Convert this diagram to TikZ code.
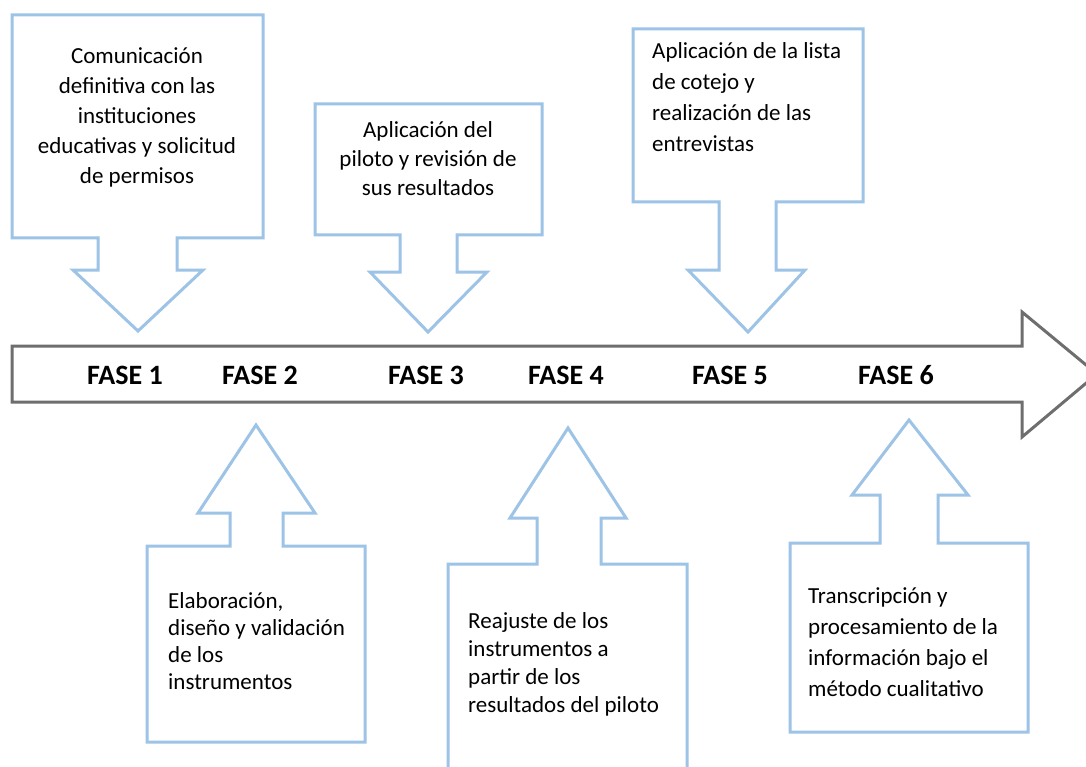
\documentclass[tikz,border=0pt]{standalone}
\usepackage{fontspec}
\setmainfont{Carlito}
\usetikzlibrary{positioning}
\definecolor{calloutblue}{RGB}{157,195,230}
\definecolor{timegray}{RGB}{110,110,110}
\tikzset{
    callout/.style={draw=calloutblue, line width=3pt, line join=miter, fill=white},
    timeline/.style={draw=timegray, line width=3pt, line join=miter, fill=white},
    fase/.style={font=\bfseries\fontsize{28}{28}\selectfont, inner sep=0pt, anchor=base},
    txtc/.style={align=center, inner sep=0pt, anchor=base},
    txtl/.style={align=left, inner sep=0pt, anchor=base west},
}

\begin{document}
\begin{tikzpicture}[x=1pt, y=-1pt]
    \useasboundingbox (0,0) rectangle (1086,767);

    % timeline
    \draw[timeline] (12,346) -- (1022,346) -- (1022,312) -- (1097,374)
        -- (1022,437) -- (1022,402) -- (12,402) -- cycle;

    \node[fase] (f1) at (125,384) {FASE 1};
    \node[fase] (f2) at (260,384) {FASE 2};
    \node[fase] (f3) at (426,384) {FASE 3};
    \node[fase] (f4) at (566,384) {FASE 4};
    \node[fase] (f5) at (730,384) {FASE 5};
    \node[fase] (f6) at (896,384) {FASE 6};

    % callouts above (text anchored at the baseline of its last line)
    \draw[callout] (12,15) -- (263,15) -- (263,238) -- (177,238) -- (177,270) -- (203,270)
        -- (138,331) -- (73,270) -- (98,270) -- (98,238) -- (12,238) -- cycle;
    \node[txtc, font=\fontsize{23}{30}\selectfont] (t1) at (137,184)
        {Comunicación\\definitiva con las\\instituciones\\educativas y solicitud\\de permisos};

    \draw[callout] (315,104) -- (542,104) -- (542,235) -- (457,235) -- (457,272) -- (487,272)
        -- (428,332) -- (370,272) -- (400,272) -- (400,235) -- (315,235) -- cycle;
    \node[txtc, font=\fontsize{23}{29}\selectfont] (t3) at (428,196)
        {Aplicación del\\piloto y revisión de\\sus resultados};

    \draw[callout] (633,29) -- (863,29) -- (863,202) -- (776,202) -- (776,270) -- (805,270)
        -- (748,332) -- (688,270) -- (719,270) -- (719,202) -- (633,202) -- cycle;
    \node[txtl, font=\fontsize{23}{31}\selectfont] (t5) at (652,152)
        {Aplicación de la lista\\de cotejo y\\realización de las\\entrevistas};

    % callouts below
    \draw[callout] (147,546) -- (230,546) -- (230,513) -- (198,513) -- (256,425) -- (315,513)
        -- (283,513) -- (283,546) -- (365,546) -- (365,742) -- (147,742) -- cycle;
    \node[txtl, font=\fontsize{23}{27}\selectfont] (t2) at (168,689)
        {Elaboración,\\diseño y validación\\de los\\instrumentos};

    \draw[callout] (448,564) -- (537,564) -- (537,518) -- (510,518) -- (568,428) -- (626,518)
        -- (601,518) -- (601,564) -- (687,564) -- (687,790) -- (448,790) -- cycle;
    \node[txtl, font=\fontsize{23}{28}\selectfont] (t4) at (468,712)
        {Reajuste de los\\instrumentos a\\partir de los\\resultados del piloto};

    \draw[callout] (790,543) -- (880,543) -- (880,495) -- (852,495) -- (909,420) -- (968,495)
        -- (938,495) -- (938,543) -- (1028,543) -- (1028,732) -- (790,732) -- cycle;
    \node[txtl, font=\fontsize{23}{31}\selectfont] (t6) at (808,696)
        {Transcripción y\\procesamiento de la\\información bajo el\\método cualitativo};
\end{tikzpicture}
\end{document}
